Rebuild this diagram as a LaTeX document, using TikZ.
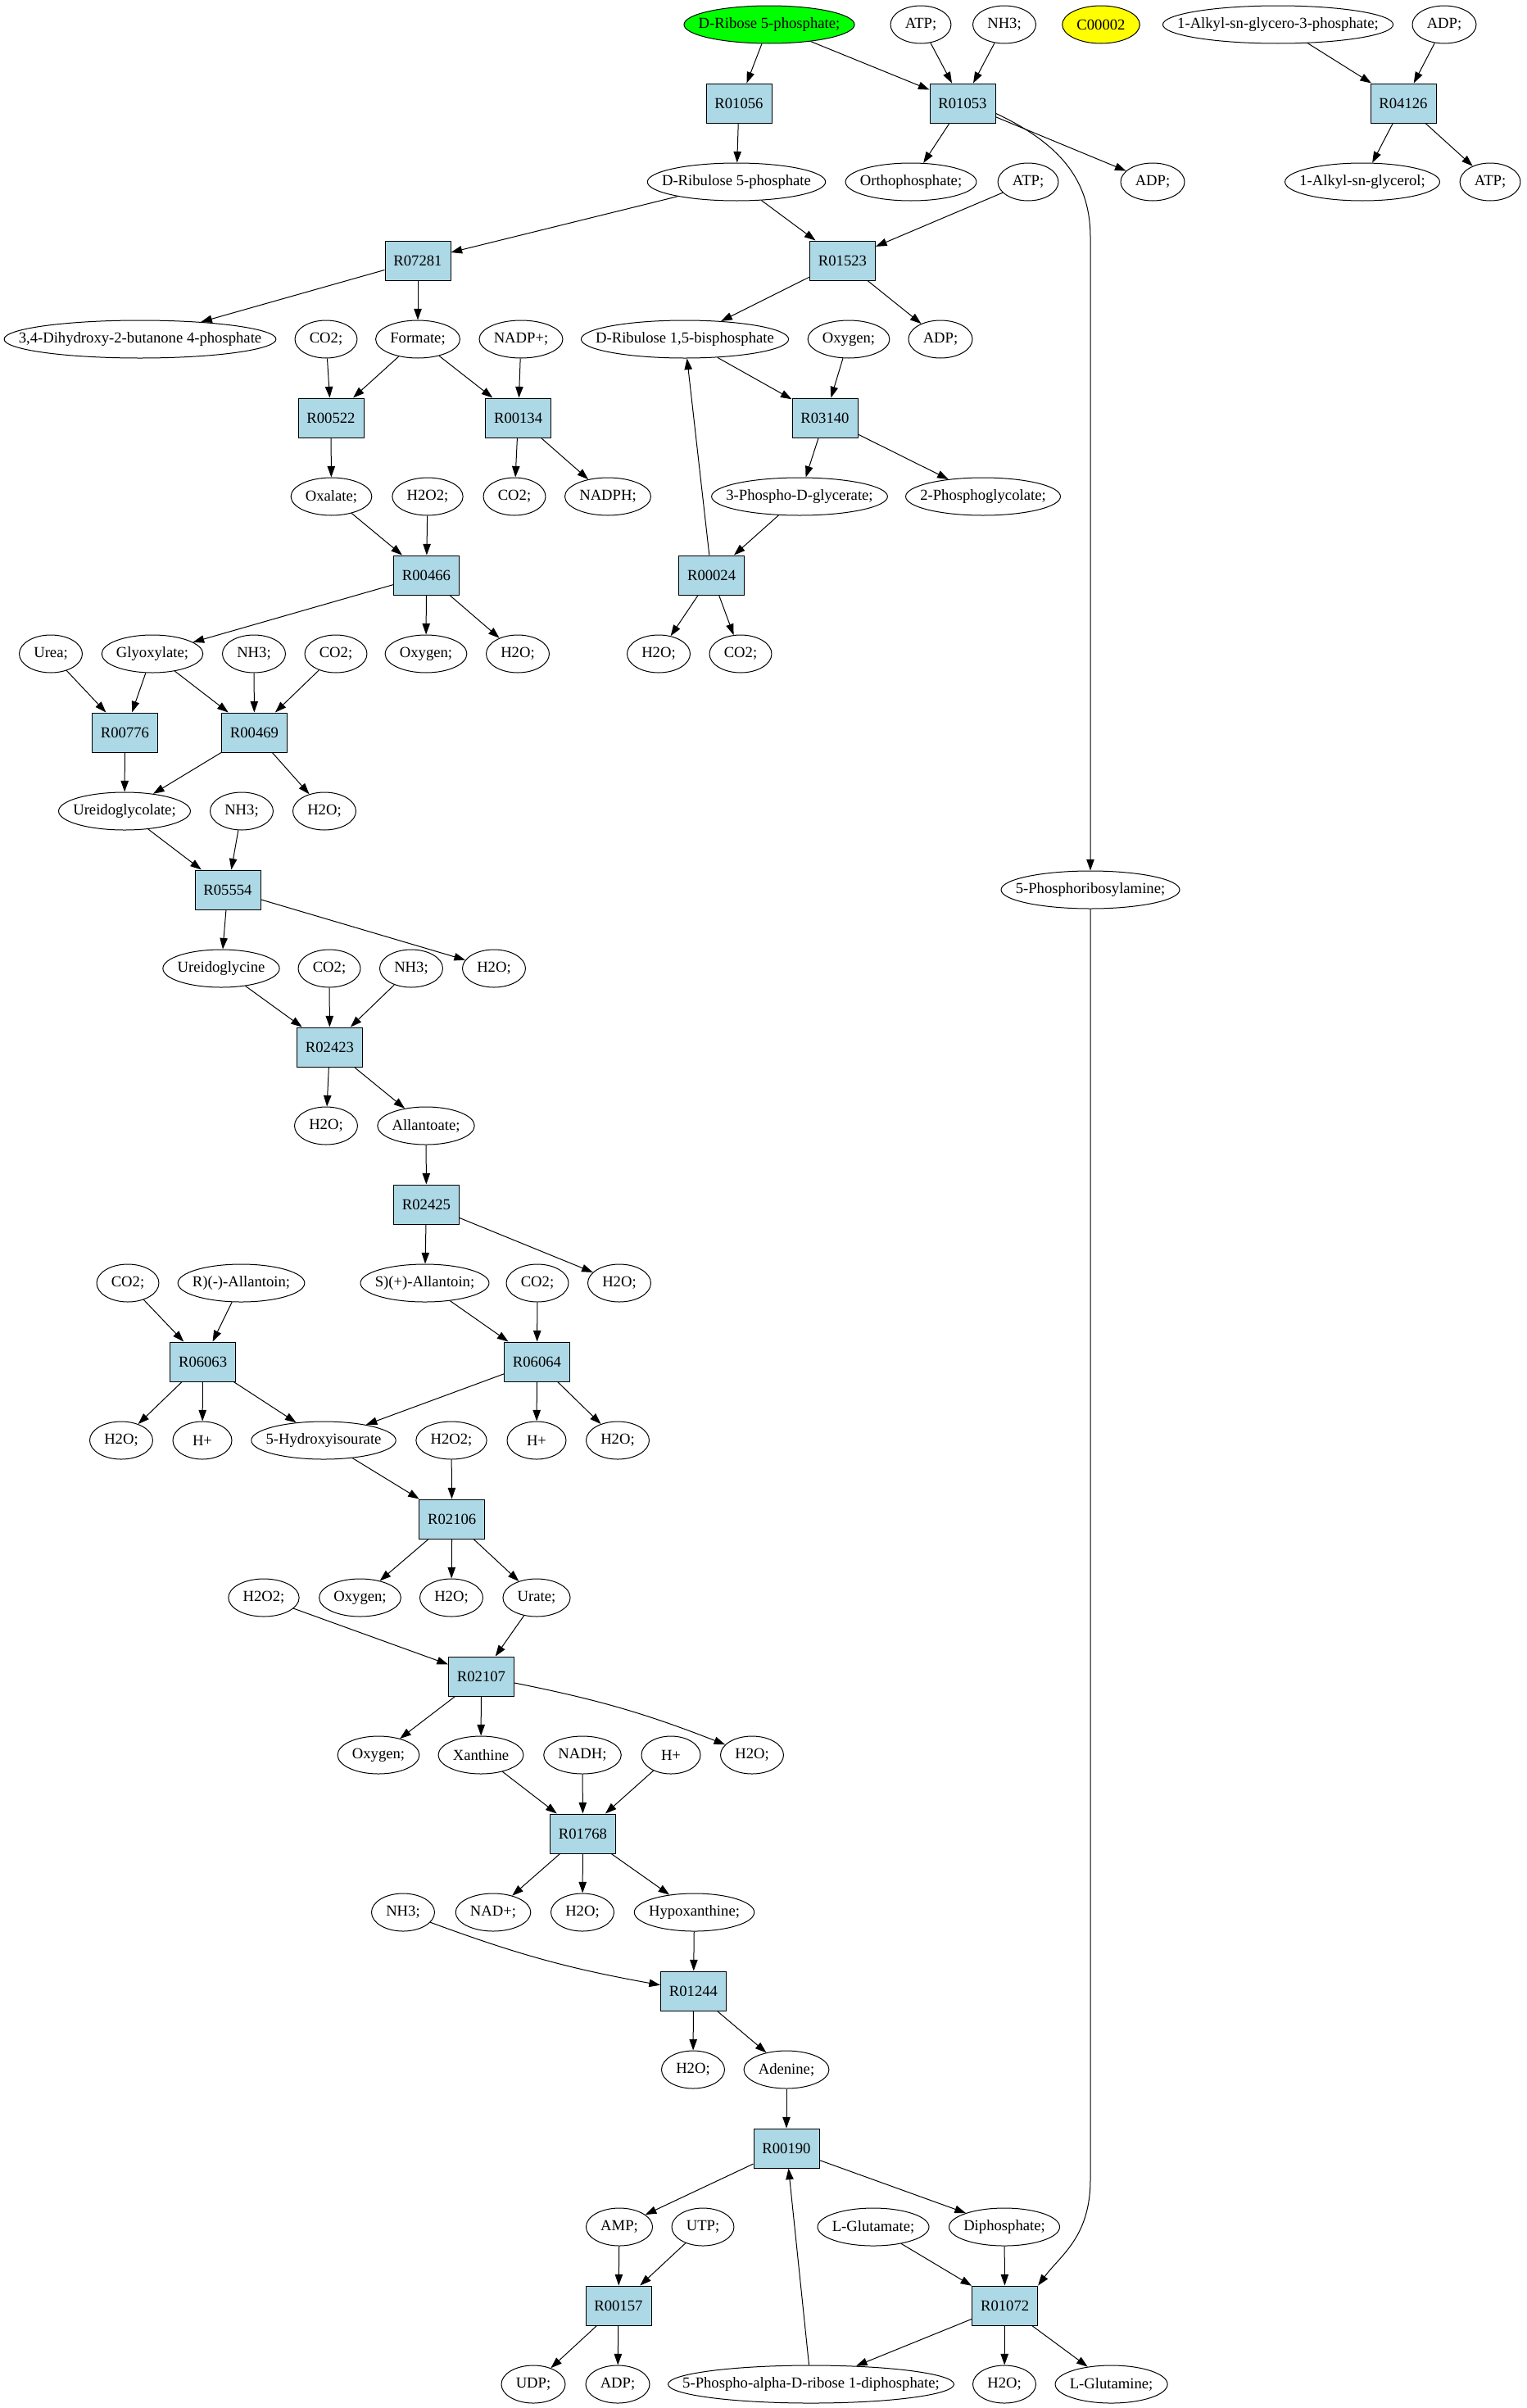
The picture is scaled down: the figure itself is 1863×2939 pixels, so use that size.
\documentclass[tikz,border=0pt]{standalone}
\usepackage{fontspec}
\setmainfont{Liberation Serif}
\usetikzlibrary{shapes.geometric,arrows.meta,calc}
\definecolor{boxblue}{HTML}{ADD8E6}
\definecolor{gvgreen}{HTML}{00FF00}
\definecolor{gvyellow}{HTML}{FFFF00}
\newcommand\nfont{\fontsize{9.33pt}{11pt}\selectfont}
\tikzset{
  elltxt/.style={rectangle, draw=none, inner xsep=8.675pt, inner ysep=0pt, font=\nfont},
  ell/.style={ellipse, draw, inner sep=0pt, minimum height=23pt, line width=0.5pt, font=\nfont},
  rbox/.style={rectangle, draw, fill=boxblue, inner sep=0pt, minimum width=40pt, minimum height=24pt, line width=0.5pt, font=\nfont},
  arr/.style={-{Triangle[length=6.8pt,width=4.7pt]}, line width=0.5pt},
}
% ellipse node: width = text width + margin (graphviz style)
\newcommand\enode[5][]{%
  \node[elltxt] (#2-t) at (#3,#4) {\phantom{#5}};%
  \path let \p1=($(#2-t.east)-(#2-t.west)$) in
    node[ell, minimum width={max(\x1,36pt)}, #1] (#2) at (#3,#4) {\makebox[0pt]{#5}};%
}
\begin{document}
\begin{tikzpicture}[x=0.5pt,y=-0.5pt]
\useasboundingbox (0,0) rectangle (1863,2939);
% row 1
\enode[fill=gvgreen]{dribose}{939}{30}{D-Ribose 5-phosphate;}
\enode{atpA}{1124}{30}{ATP;}
\enode{nhA}{1226}{30}{NH3;}
\enode[fill=gvyellow]{cpd}{1344}{30}{C00002}
\enode{alkp}{1560}{30}{1-Alkyl-sn-glycero-3-phosphate;}
\enode{adpA}{1763}{30}{ADP;}
% row 2
\node[rbox] (r01056) at (902,126) {R01056};
\node[rbox] (r01053) at (1175,126) {R01053};
\node[rbox] (r04126) at (1713,126) {R04126};
% row 3
\enode{dribu}{899}{222}{D-Ribulose 5-phosphate}
\enode{ortho}{1112}{222}{Orthophosphate;}
\enode{atpB}{1255}{222}{ATP;}
\enode{adpB}{1407}{222}{ADP;}
\enode{alkg}{1663}{222}{1-Alkyl-sn-glycerol;}
\enode{atpC}{1819}{222}{ATP;}
% row 4
\node[rbox] (r07281) at (510,318) {R07281};
\node[rbox] (r01523) at (1028.5,318) {R01523};
% row 5
\enode{dhb}{171}{414}{3,4-Dihydroxy-2-butanone 4-phosphate}
\enode{co2A}{398}{414}{CO2;}
\enode{formate}{510}{414}{Formate;}
\enode{nadp}{636}{414}{NADP+;}
\enode{drbp}{836}{414}{D-Ribulose 1,5-bisphosphate}
\enode{oxyA}{1036}{414}{Oxygen;}
\enode{adpC}{1148}{414}{ADP;}
% row 6
\node[rbox] (r00522) at (404,510) {R00522};
\node[rbox] (r00134) at (632.6,510) {R00134};
\node[rbox] (r03140) at (1007,510) {R03140};
% row 7
\enode{oxalate}{404.5}{606}{Oxalate;}
\enode{h2o2A}{522}{606}{H2O2;}
\enode{co2B}{628}{606}{CO2;}
\enode{nadph}{742}{606}{NADPH;}
\enode{pdg}{976}{606}{3-Phospho-D-glycerate;}
\enode{pgc}{1200}{606}{2-Phosphoglycolate;}
% row 8
\node[rbox] (r00466) at (520.5,702) {R00466};
\node[rbox] (r00024) at (868.6,702) {R00024};
% row 9
\enode{urea}{62}{798}{Urea;}
\enode{glyox}{186}{798}{Glyoxylate;}
\enode{nhB}{310}{798}{NH3;}
\enode{co2C}{410}{798}{CO2;}
\enode{oxyB}{520}{798}{Oxygen;}
\enode{h2oA}{632}{798}{H2O;}
\enode{h2oB}{804}{798}{H2O;}
\enode{co2D}{904}{798}{CO2;}
% row 10
\node[rbox] (r00776) at (152.5,894) {R00776};
\node[rbox] (r00469) at (310.5,894) {R00469};
% row 11
\enode{ugc}{152}{990}{Ureidoglycolate;}
\enode{nhC}{295}{990}{NH3;}
\enode{h2oC}{396}{990}{H2O;}
% row 12
\node[rbox] (r05554) at (278,1086) {R05554};
\enode{pra}{1331}{1086}{5-Phosphoribosylamine;}
% row 13
\enode{ugn}{270}{1182}{Ureidoglycine}
\enode{co2E}{402}{1182}{CO2;}
\enode{nhD}{502}{1182}{NH3;}
\enode{h2oD}{603}{1182}{H2O;}
% row 14
\node[rbox] (r02423) at (402.5,1278) {R02423};
% row 15
\enode{h2oE}{398}{1374}{H2O;}
\enode{allantoate}{520}{1374}{Allantoate;}
% row 16
\node[rbox] (r02425) at (520.5,1470) {R02425};
% row 17
\enode{co2F}{156}{1566}{CO2;}
\enode{rall}{294.5}{1566}{R)(-)-Allantoin;}
\enode{sall}{518.5}{1566}{S)(+)-Allantoin;}
\enode{co2G}{656}{1566}{CO2;}
\enode{h2oF}{756}{1566}{H2O;}
% row 18
\node[rbox] (r06063) at (247.6,1662) {R06063};
\node[rbox] (r06064) at (655.5,1662) {R06064};
% row 19
\enode{h2oG}{148}{1758}{H2O;}
\enode{hpA}{247}{1758}{H+}
\enode{hiu}{395}{1758}{5-Hydroxyisourate}
\enode{h2o2B}{551}{1758}{H2O2;}
\enode{hpB}{655}{1758}{H+}
\enode{h2oH}{754}{1758}{H2O;}
% row 20
\node[rbox] (r02106) at (551.7,1854) {R02106};
% row 21
\enode{h2o2C}{322}{1950}{H2O2;}
\enode{oxyC}{439.5}{1950}{Oxygen;}
\enode{h2oI}{551}{1950}{H2O;}
\enode{urate}{655}{1950}{Urate;}
% row 22
\node[rbox] (r02107) at (587.5,2046) {R02107};
% row 23
\enode{oxyD}{462}{2142}{Oxygen;}
\enode{xan}{587}{2142}{Xanthine}
\enode{nadh}{711}{2142}{NADH;}
\enode{hpC}{819}{2142}{H+}
\enode{h2oJ}{918}{2142}{H2O;}
% row 24
\node[rbox] (r01768) at (711.5,2238) {R01768};
% row 25
\enode{nhE}{492}{2334}{NH3;}
\enode{nad}{602}{2334}{NAD+;}
\enode{h2oK}{711}{2334}{H2O;}
\enode{hypox}{847.5}{2334}{Hypoxanthine;}
% row 26
\node[rbox] (r01244) at (846.5,2430) {R01244};
% row 27
\enode{h2oL}{846}{2526}{H2O;}
\enode{adenine}{960}{2526}{Adenine;}
% row 28
\node[rbox] (r00190) at (960,2622) {R00190};
% row 29
\enode{amp}{756}{2718}{AMP;}
\enode{utp}{858}{2718}{UTP;}
\enode{glu}{1066}{2718}{L-Glutamate;}
\enode{diph}{1226}{2718}{Diphosphate;}
% row 30
\node[rbox] (r00157) at (755,2814) {R00157};
\node[rbox] (r01072) at (1226.6,2814) {R01072};
% row 31
\enode{udp}{651}{2910}{UDP;}
\enode{adpD}{754}{2910}{ADP;}
\enode{prpp}{990}{2910}{5-Phospho-alpha-D-ribose 1-diphosphate;}
\enode{h2oM}{1226}{2910}{H2O;}
\enode{gln}{1356.6}{2910}{L-Glutamine;}
% straight connectors
\foreach \a/\b in {dribose/r01056, dribose/r01053, atpA/r01053, nhA/r01053, alkp/r04126, adpA/r04126,
  r01056/dribu, r01053/ortho, r01053/adpB, r04126/alkg, r04126/atpC,
  dribu/r07281, dribu/r01523, atpB/r01523,
  r07281/dhb, r07281/formate, r01523/drbp, r01523/adpC,
  co2A/r00522, formate/r00522, formate/r00134, nadp/r00134, drbp/r03140, oxyA/r03140,
  r00522/oxalate, r00134/co2B, r00134/nadph, r03140/pdg, r03140/pgc,
  oxalate/r00466, h2o2A/r00466, pdg/r00024,
  r00466/glyox, r00466/oxyB, r00466/h2oA, r00024/drbp, r00024/h2oB, r00024/co2D,
  urea/r00776, glyox/r00776, glyox/r00469, nhB/r00469, co2C/r00469,
  r00776/ugc, r00469/ugc, r00469/h2oC,
  ugc/r05554, nhC/r05554, r05554/ugn, r05554/h2oD,
  ugn/r02423, co2E/r02423, nhD/r02423, r02423/h2oE, r02423/allantoate,
  allantoate/r02425, r02425/sall, r02425/h2oF,
  co2F/r06063, rall/r06063, sall/r06064, co2G/r06064,
  r06063/h2oG, r06063/hpA, r06063/hiu, r06064/hiu, r06064/hpB, r06064/h2oH,
  hiu/r02106, h2o2B/r02106, r02106/oxyC, r02106/h2oI, r02106/urate,
  h2o2C/r02107, urate/r02107, r02107/oxyD, r02107/xan,
  xan/r01768, nadh/r01768, hpC/r01768,
  r01768/nad, r01768/h2oK, r01768/hypox,
  hypox/r01244, r01244/h2oL, r01244/adenine,
  adenine/r00190, r00190/amp, r00190/diph,
  amp/r00157, utp/r00157, glu/r01072, diph/r01072,
  r00157/udp, r00157/adpD, r01072/prpp, r01072/h2oM, r01072/gln,
  prpp/r00190}
  \draw[arr] (\a) -- (\b);
% slightly curved connectors
\draw[arr] (r02107) to[bend left=5] (h2oJ);
\draw[arr] (nhE) to[bend right=5] (r01244);
% long connector R01053 -> 5-Phosphoribosylamine -> R01072
\coordinate (bendA) at (1331,290);
\coordinate (bendB) at (1331,2660);
\draw[arr] (r01053.-17) .. controls (1300,178) and (1331,225) .. (bendA) -- (pra.north);
\draw[arr] (pra.south) -- (bendB) .. controls (1331,2730) and (1295,2752) .. (r01072.north east);
\end{tikzpicture}
\end{document}
